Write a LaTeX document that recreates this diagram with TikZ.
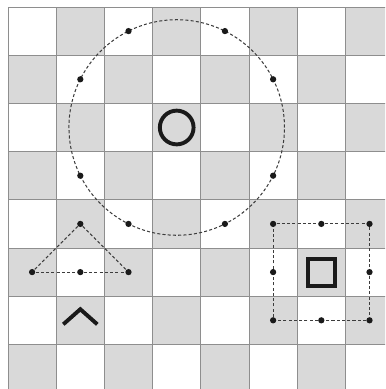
\documentclass[tikz,border=0pt]{standalone}
\definecolor{cellgray}{HTML}{D9D9D9}
\definecolor{gridgray}{HTML}{8E8E8E}
\definecolor{ink}{HTML}{1A1A1A}
\begin{document}
\begin{tikzpicture}[x=1cm,y=1cm,
  dot/.style={circle,fill=ink,inner sep=0pt,minimum size=0.13cm},
  dashline/.style={draw=ink!85,line width=0.6pt,dash pattern=on 1.8pt off 1.3pt},
  glyph/.style={draw=ink,line width=2.3pt}]
\useasboundingbox (-0.166,-7.925) rectangle (7.822,0.145);
\clip (-0.166,-7.925) rectangle (7.822,0.145);
\fill[white] (-0.166,-7.925) rectangle (7.822,0.145);
% checkerboard
\foreach \c in {0,...,7}{
  \foreach \r in {0,...,7}{
    \pgfmathtruncatemacro\p{mod(\c+\r,2)}
    \ifnum\p=1 \fill[cellgray] (\c,-\r-1) rectangle (\c+1,-\r);\fi
  }
}
\draw[gridgray,line width=0.5pt] (0,-8) grid (8,0);
% big dashed circle
\coordinate (ctr) at (3.5,-2.5);
\draw[dashline] (ctr) circle ({sqrt(5)});
\node[dot] (c1) at (2.5,-0.5) {};
\node[dot] (c2) at (4.5,-0.5) {};
\node[dot] (c3) at (1.5,-1.5) {};
\node[dot] (c4) at (5.5,-1.5) {};
\node[dot] (c5) at (1.5,-3.5) {};
\node[dot] (c6) at (5.5,-3.5) {};
\node[dot] (c7) at (2.5,-4.5) {};
\node[dot] (c8) at (4.5,-4.5) {};
\node[glyph,circle,minimum size=0.70cm,inner sep=0pt] (ring) at (ctr) {};
% triangle
\node[dot] (ta) at (1.5,-4.5) {};
\node[dot] (tl) at (0.5,-5.5) {};
\node[dot] (tm) at (1.5,-5.5) {};
\node[dot] (tr) at (2.5,-5.5) {};
\draw[dashline] (ta) -- (tl);
\draw[dashline] (ta) -- (tr);
\draw[dashline] (tl) -- (tm);
\draw[dashline] (tm) -- (tr);
% caret
\draw[glyph,line cap=butt] (1.147,-6.583) -- (1.5,-6.27) -- (1.853,-6.583);
% square
\node[dot] (s1) at (5.5,-4.5) {};
\node[dot] (s2) at (6.5,-4.5) {};
\node[dot] (s3) at (7.5,-4.5) {};
\node[dot] (s4) at (7.5,-5.5) {};
\node[dot] (s5) at (7.5,-6.5) {};
\node[dot] (s6) at (6.5,-6.5) {};
\node[dot] (s7) at (5.5,-6.5) {};
\node[dot] (s8) at (5.5,-5.5) {};
\draw[dashline] (s1) -- (s2);
\draw[dashline] (s2) -- (s3);
\draw[dashline] (s3) -- (s4);
\draw[dashline] (s4) -- (s5);
\draw[dashline] (s5) -- (s6);
\draw[dashline] (s6) -- (s7);
\draw[dashline] (s7) -- (s8);
\draw[dashline] (s8) -- (s1);
\node[glyph,rectangle,minimum size=0.56cm,inner sep=0pt] (sq) at (6.5,-5.5) {};
\end{tikzpicture}
\end{document}
